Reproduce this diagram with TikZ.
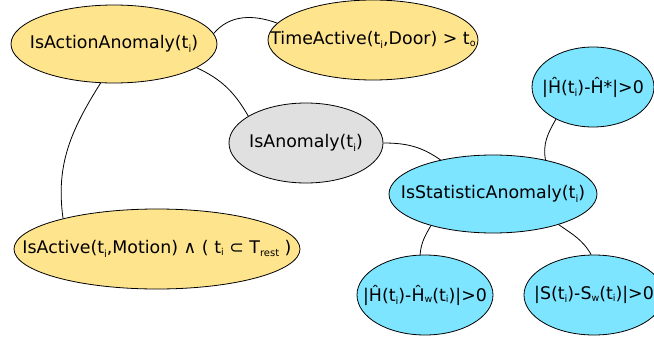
\documentclass[tikz,border=0pt]{standalone}
\usepackage{fontspec}
\setmainfont{DejaVu Sans}
\usetikzlibrary{shapes.geometric}
\definecolor{Sand}{RGB}{255,228,142}
\definecolor{Sky}{RGB}{125,229,255}
\definecolor{Ash}{RGB}{224,224,224}
\newcommand\tlbl[1]{\makebox[0pt]{#1}}
\newcommand\lowi{\raisebox{-0.35ex}{\fontsize{10}{10}\selectfont i}}
\newcommand\smsub[1]{\raisebox{-0.15ex}{\fontsize{9.5}{9.5}\selectfont #1}}

\begin{document}
\begin{tikzpicture}[x=1pt,y=1pt,
    cond/.style={ellipse,draw=black,line width=0.8pt,inner sep=0pt,
      font=\fontsize{17.4}{21}\selectfont},
    act/.style={cond,fill=Sand},
    stat/.style={cond,fill=Sky},
    root/.style={cond,fill=Ash},
    link/.style={line width=0.8pt,black}]
  \path[use as bounding box] (0,0) rectangle (654,-343);
  % nodes
  \node[act,minimum width=206pt,minimum height=78pt] (action) at (114,-44)
    {\tlbl{IsActionAnomaly(t\lowi)}};
  \node[act,minimum width=210pt,minimum height=80pt] (time) at (373,-40)
    {\tlbl{TimeActive(t\lowi,Door) > t\smsub{o}}};
  \node[stat,minimum width=122pt,minimum height=80pt] (hstar) at (593,-87)
    {\tlbl{|Ĥ(t\lowi)-Ĥ*|>0}};
  \node[root,minimum width=154pt,minimum height=80pt] (anomaly) at (306,-143)
    {\tlbl{IsAnomaly(t\lowi)}};
  \node[stat,minimum width=208pt,minimum height=78pt] (statistic) at (493,-194)
    {\tlbl{IsStatisticAnomaly(t\lowi)}};
  \node[act,minimum width=286pt,minimum height=80pt] (active) at (157,-249)
    {\tlbl{IsActive(t\lowi,Motion) ∧ ( t\smsub{i} ⊂ T\raisebox{-0.3ex}{\fontsize{10}{10}\selectfont rest} )}};
  \node[stat,minimum width=136pt,minimum height=80pt] (hwin) at (425,-295)
    {\tlbl{|Ĥ(t\lowi)-Ĥ\smsub{w}(t\smsub{i})|>0}};
  \node[stat,minimum width=140pt,minimum height=80pt] (swin) at (594,-295)
    {\tlbl{|S(t\lowi)-S\smsub{w}(t\smsub{i})|>0}};
  % links
  \draw[link] (action.6) to[out=50,in=160] (time.170);
  \draw[link] (action.-16) to[out=-25,in=120] (anomaly.155);
  \draw[link] (action.-109) to[out=-122,in=98] (active.162);
  \draw[link] (anomaly.0) to[out=0,in=145] (statistic.147);
  \draw[link] (statistic.33) to[out=100,in=-120] (hstar.-139);
  \draw[link] (statistic.-153) to[out=-120,in=85] (hwin.97);
  \draw[link] (statistic.-25) to[out=-35,in=120] (swin.94);
\end{tikzpicture}
\end{document}
